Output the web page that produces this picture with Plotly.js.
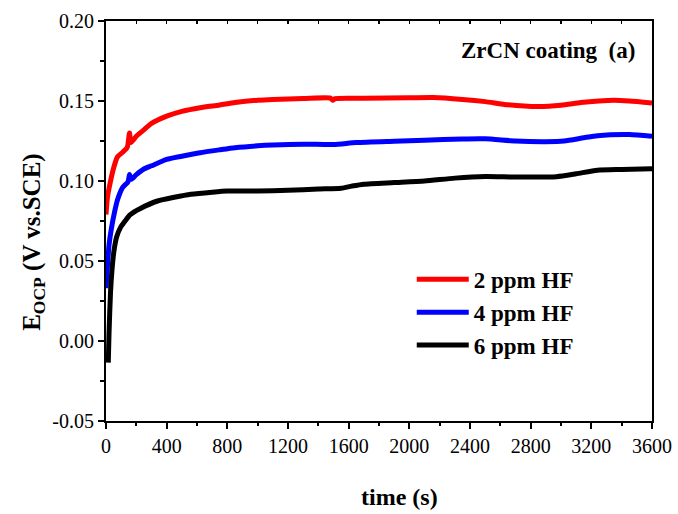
<!DOCTYPE html>
<html>
<head>
<meta charset="utf-8">
<script src="https://cdn.plot.ly/plotly-3.0.1.min.js"></script>
<style>
  html, body { margin: 0; padding: 0; background: #fff; }
  #chart { width: 678px; height: 514px; }
</style>
</head>
<body>
<div id="chart"></div>
<script>
// Open-circuit potential vs. time for ZrCN coating in HF solutions
const seriesNames = ['2 ppm HF', '4 ppm HF', '6 ppm HF'];
const seriesColors = ['#ff0000', '#0000ff', '#000000'];

const time2ppm = [0, 10, 30, 50, 75, 110, 140, 155, 165, 200, 250, 300, 400, 500, 620, 750, 850, 1000, 1100, 1300, 1480, 1495, 1510, 1700, 2000, 2160, 2350, 2500, 2650, 2850, 3000, 3130, 3250, 3350, 3450, 3600];
const ocp2ppm = [0.079, 0.090, 0.100, 0.108, 0.115, 0.118, 0.121, 0.130, 0.124, 0.128, 0.132, 0.136, 0.1405, 0.1435, 0.1458, 0.1475, 0.149, 0.1505, 0.151, 0.1515, 0.1518, 0.1505, 0.1515, 0.1517, 0.152, 0.1522, 0.151, 0.1496, 0.1476, 0.1465, 0.1473, 0.149, 0.150, 0.1504, 0.150, 0.1488];

const time4ppm = [0, 8, 20, 35, 55, 75, 110, 145, 155, 165, 200, 250, 300, 400, 500, 620, 750, 850, 1000, 1100, 1300, 1500, 1650, 1900, 2100, 2350, 2500, 2700, 2900, 3020, 3150, 3240, 3450, 3600];
const ocp4ppm = [0.033, 0.045, 0.060, 0.070, 0.080, 0.088, 0.096, 0.0995, 0.104, 0.101, 0.104, 0.1075, 0.1095, 0.1135, 0.1155, 0.1177, 0.1195, 0.1208, 0.122, 0.1225, 0.123, 0.1228, 0.124, 0.1248, 0.1254, 0.1263, 0.1264, 0.125, 0.1246, 0.125, 0.127, 0.1283, 0.129, 0.128];

const time6ppm = [15, 20, 30, 40, 52, 70, 96, 130, 160, 230, 340, 450, 560, 700, 800, 1000, 1200, 1400, 1550, 1620, 1700, 1900, 2100, 2300, 2500, 2700, 2970, 3100, 3240, 3400, 3600];
const ocp6ppm = [-0.0135, 0.005, 0.031, 0.045, 0.056, 0.065, 0.071, 0.0755, 0.079, 0.083, 0.0875, 0.0898, 0.0917, 0.093, 0.0937, 0.0937, 0.0942, 0.095, 0.0955, 0.0968, 0.098, 0.099, 0.100, 0.1018, 0.1028, 0.1025, 0.1027, 0.1045, 0.1067, 0.1072, 0.1077];

const xTicks = [0, 400, 800, 1200, 1600, 2000, 2400, 2800, 3200, 3600];
const yTicks = [-0.05, 0.00, 0.05, 0.10, 0.15, 0.20];

const serif = "'Liberation Serif', 'Times New Roman', Times, serif";

const xs = [time2ppm, time4ppm, time6ppm];
const ys = [ocp2ppm, ocp4ppm, ocp6ppm];

const traces = seriesNames.map((name, i) => ({
  type: 'scatter',
  mode: 'lines',
  name: name,
  x: xs[i],
  y: ys[i],
  line: { color: seriesColors[i], width: 5, shape: 'spline', smoothing: 0.6 }
}));

const axisCommon = {
  showline: true,
  linecolor: '#000',
  linewidth: 2,
  mirror: true,
  showgrid: false,
  zeroline: false,
  ticks: 'outside',
  tickcolor: '#000',
  tickwidth: 2,
  ticklen: 6,
  tickfont: { family: serif, size: 20, color: '#000' }
};

const layout = {
  width: 678,
  height: 514,
  margin: { l: 106, r: 26, t: 21, b: 93 },
  paper_bgcolor: '#fff',
  plot_bgcolor: '#fff',
  font: { family: serif, color: '#000' },
  showlegend: true,
  legend: {
    x: 0.56, xanchor: 'left',
    y: 0.408, yanchor: 'top',
    bgcolor: 'rgba(0,0,0,0)',
    borderwidth: 0,
    itemwidth: 52,
    font: { family: serif, size: 23, color: '#000', weight: 'bold' }
  },
  xaxis: Object.assign({}, axisCommon, {
    range: [0, 3600],
    tickvals: xTicks,
    ticktext: xTicks.map(String),
    minor: { dtick: 200, tick0: 0, ticks: 'outside', ticklen: 3, tickwidth: 2, tickcolor: '#000' }
  }),
  xaxis2: {
    overlaying: 'x',
    side: 'top',
    range: [0, 3600],
    showline: false,
    showgrid: false,
    zeroline: false,
    showticklabels: false,
    ticks: 'inside',
    ticklen: 3,
    tickwidth: 1.5,
    tickcolor: '#000',
    tickvals: [200, 400, 600, 800, 1000, 1200, 1400, 1600, 1800, 2000, 2200, 2400, 2600, 2800, 3000, 3200, 3400]
  },
  yaxis: Object.assign({}, axisCommon, {
    range: [-0.05, 0.20],
    tickvals: yTicks,
    ticktext: yTicks.map(v => v.toFixed(2)),
    minor: { dtick: 0.025, tick0: 0, ticks: 'outside', ticklen: 4, tickwidth: 2, tickcolor: '#000' }
  }),
  annotations: [
    {
      xref: 'paper', yref: 'paper',
      x: 0.9725, y: 0.9275, xanchor: 'right', yanchor: 'middle',
      text: '<b>ZrCN coating  (a)</b>',
      showarrow: false,
      font: { family: serif, size: 23, color: '#000' }
    },
    {
      xref: 'paper', yref: 'paper',
      x: -0.134, y: 0.4475, xanchor: 'center', yanchor: 'middle',
      textangle: -90,
      text: '<b>E<sub>OCP</sub> (V vs.SCE)</b>',
      showarrow: false,
      font: { family: serif, size: 25, color: '#000' }
    },
    {
      xref: 'paper', yref: 'paper',
      x: 0.537, y: -0.19, xanchor: 'center', yanchor: 'middle',
      text: '<b>time (s)</b>',
      showarrow: false,
      font: { family: serif, size: 24, color: '#000' }
    }
  ]
};

// a blank trace on the top axis so its inside ticks are drawn
traces.push({
  type: 'scatter', mode: 'lines', x: [0, 3600], y: [null, null],
  xaxis: 'x2', yaxis: 'y', showlegend: false, hoverinfo: 'skip'
});

Plotly.newPlot('chart', traces, layout, { displayModeBar: false, staticPlot: true });
</script>
</body>
</html>
